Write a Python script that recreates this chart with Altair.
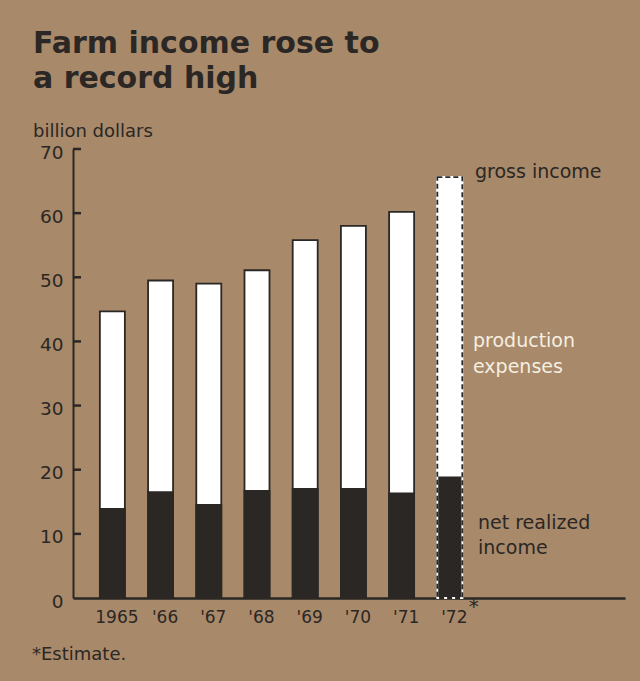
import json
import altair as alt
import pandas as pd

# ---- data ----
years = [1965, 1966, 1967, 1968, 1969, 1970, 1971, 1972]
year_labels = ["1965", "'66", "'67", "'68", "'69", "'70", "'71", "'72"]
gross_income = [44.7, 49.5, 49.0, 51.1, 55.8, 58.0, 60.2, 65.6]
net_realized = [13.9, 16.5, 14.5, 16.7, 17.0, 17.0, 16.3, 18.8]
is_estimate = [False, False, False, False, False, False, False, True]
y_ticks = [0, 10, 20, 30, 40, 50, 60, 70]

BG = "#a8896a"
DARK = "#2b2724"
CREAM = "#f5efe0"
FONT = "DejaVu Sans"

df = pd.DataFrame({"year": years, "gross": gross_income, "net": net_realized, "est": is_estimate})
df_actual = df[~df["est"]]
df_est = df[df["est"]]
ticks_df = pd.DataFrame({"v": [v for v in y_ticks if v > 0]})

W, H = 552, 449
label_expr = json.dumps(year_labels) + "[datum.value - 1965]"

x_scale = alt.Scale(domain=[1964.287, 1975.53], nice=False, zero=False)
y_scale = alt.Scale(domain=[0, 70], nice=False)

x_axis = alt.Axis(values=years, labelExpr=label_expr, ticks=False, grid=False,
                  domainColor=DARK, domainWidth=2.5, labelFontSize=17, labelFont=FONT,
                  labelColor=DARK, labelPadding=11, labelBaseline="top", labelOffset=4,
                  title="")
y_axis = alt.Axis(values=y_ticks, ticks=False, grid=False, domainColor=DARK, domainWidth=2,
                  labelFontSize=18.5, labelFont=FONT, labelColor=DARK, labelPadding=10,
                  labelOffset=3, title="")

gross_bars = alt.Chart(df_actual).mark_bar(width=25, fill="white", stroke=DARK, strokeWidth=1.8).encode(
    x=alt.X("year:Q", scale=x_scale, axis=x_axis),
    y=alt.Y("gross:Q", scale=y_scale, axis=y_axis),
)
gross_est = alt.Chart(df_est).mark_bar(width=25, fill="white", stroke="white", strokeWidth=1.8).encode(
    x=alt.X("year:Q", scale=x_scale),
    y=alt.Y("gross:Q", scale=y_scale),
)
net_bars = alt.Chart(df).mark_bar(width=25, fill=DARK, stroke=DARK, strokeWidth=1.8).encode(
    x=alt.X("year:Q", scale=x_scale),
    y=alt.Y("net:Q", scale=y_scale),
)
est_white_edge = alt.Chart(df_est).mark_bar(width=25, fillOpacity=0, stroke="white", strokeWidth=1.8).encode(
    x=alt.X("year:Q", scale=x_scale),
    y=alt.Y("gross:Q", scale=y_scale),
)
est_dash_edge = alt.Chart(df_est).mark_bar(width=25, fillOpacity=0, stroke=DARK, strokeWidth=1.8,
                                          strokeDash=[5, 3]).encode(
    x=alt.X("year:Q", scale=x_scale),
    y=alt.Y("gross:Q", scale=y_scale),
)

# inward-pointing y ticks, drawn from the tick values through the y scale
tick_rules = alt.Chart(ticks_df).mark_rule(color=DARK, strokeWidth=2.5).encode(
    y=alt.Y("v:Q", scale=y_scale),
    x=alt.value(0),
    x2=alt.value(8),
)

asterisk = alt.Chart(df_est).mark_text(text="*", fontSize=20, font=FONT, color=DARK, dx=24,
                                       baseline="middle").encode(
    x=alt.X("year:Q", scale=x_scale),
    y=alt.value(458),
)


def label(text, x, y, size=19, color=DARK, weight="normal", align="left", baseline="middle", font=FONT):
    return alt.Chart(pd.DataFrame({"t": [text]})).mark_text(
        fontSize=size, color=color, fontWeight=weight, align=align, baseline=baseline, font=font
    ).encode(text="t:N", x=alt.value(x), y=alt.value(y))


texts = [
    label("Farm income rose to", -40, -96, size=30, weight="bold", baseline="alphabetic"),
    label("a record high", -40, -61, size=30, weight="bold", baseline="alphabetic"),
    label("billion dollars", -40, -12, size=18, baseline="alphabetic"),
    label("gross income", 402, 23),
    label("production", 400, 192, color=CREAM),
    label("expenses", 400, 218, color=CREAM),
    label("net realized", 405, 374),
    label("income", 405, 399),
    label("*Estimate.", -41, 511, size=18, baseline="alphabetic"),
]

chart = alt.layer(
    gross_bars, gross_est, net_bars, est_white_edge, est_dash_edge, tick_rules, asterisk, *texts
).properties(
    width=W, height=H,
    padding={"left": 73, "top": 149, "right": 15, "bottom": 83},
    autosize=alt.AutoSizeParams(type="none"),
    background=BG,
).configure_view(stroke=None)

chart.save("out.html", embed_options={"renderer": "svg", "actions": False})
